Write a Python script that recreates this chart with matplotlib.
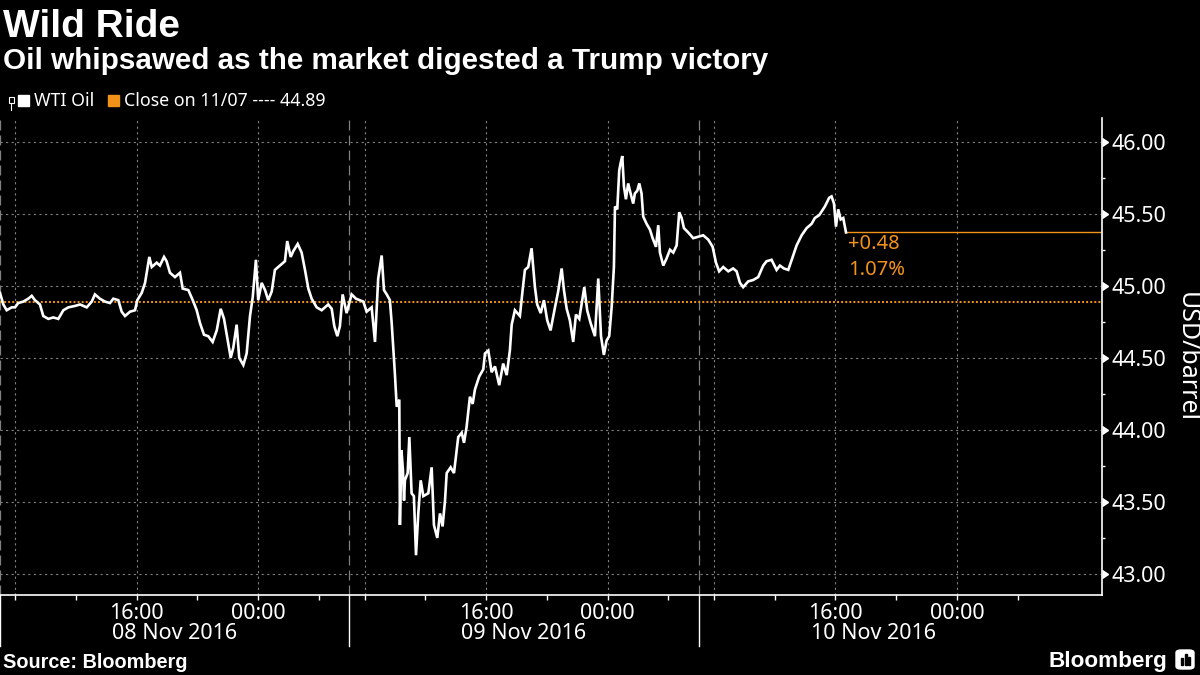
import numpy as np
import matplotlib.pyplot as plt
from matplotlib.patches import Rectangle, FancyBboxPatch
from matplotlib.lines import Line2D
from matplotlib.transforms import blended_transform_factory

plt.rcParams['font.family'] = ['Noto Sans', 'DejaVu Sans']
BOLD = ['Liberation Sans', 'DejaVu Sans']

# trading hours since 08 Nov 07:00 (HK time); each session is 23h, the 06:00-07:00 break is dropped
hours = [0.00, 0.22, 0.44, 0.77, 0.99, 1.20, 1.53, 1.86, 2.09, 2.30,
         2.63, 2.85, 3.18, 3.51, 3.84, 4.17, 4.50, 4.94, 5.27, 5.71,
         6.04, 6.25, 6.58, 6.91, 7.24, 7.46, 7.79, 8.01, 8.23, 8.56,
         8.89, 9.04, 9.33, 9.55, 9.83, 9.99, 10.32, 10.53, 10.80, 10.97,
         11.19, 11.52, 11.85, 12.03, 12.40, 12.73, 12.95, 13.17, 13.43, 13.71,
         14.00, 14.27, 14.53, 14.75, 14.96, 15.19, 15.36, 15.58, 15.75, 16.02,
         16.24, 16.46, 16.64, 16.85, 17.00, 17.23, 17.45, 17.66, 17.89, 18.10,
         18.43, 18.76, 18.91, 19.14, 19.31, 19.60, 19.86, 20.08, 20.30, 20.52,
         20.85, 21.18, 21.61, 21.84, 22.01, 22.21, 22.38, 22.56, 22.82, 23.15,
         23.44, 23.92, 24.14, 24.47, 24.69, 24.90, 25.13, 25.28, 25.46, 25.67,
         25.79, 26.00, 26.12, 26.29,
         26.33, 26.43, 26.53, 26.60, 26.66, 26.84,
         26.95, 27.10, 27.25, 27.39, 27.54, 27.70, 27.87, 28.20, 28.42, 28.57,
         28.79, 28.97, 29.14, 29.30, 29.41, 29.67, 29.89, 30.17, 30.40, 30.55,
         30.72, 30.94, 31.12, 31.27, 31.55, 31.82, 31.93, 32.15, 32.37, 32.59,
         32.87, 33.13, 33.36, 33.57, 33.69, 33.90, 34.23, 34.41, 34.56, 34.78,
         35.00, 35.22, 35.37, 35.60, 35.81, 36.03, 36.25, 36.54, 36.75, 36.98,
         37.13, 37.31, 37.52, 37.74, 37.92, 38.14, 38.47, 38.66, 38.89, 39.17,
         39.39, 39.57, 39.76, 39.94, 40.11, 40.27, 40.42, 40.49, 40.64, 40.77,
         40.86, 40.97, 41.08, 41.21, 41.36, 41.52, 41.69, 41.80, 41.96, 42.09,
         42.24, 42.35, 42.57, 42.79, 42.97, 43.19, 43.34, 43.45, 43.67, 43.89,
         44.11, 44.33, 44.55, 44.72, 44.88, 45.03, 45.31, 45.64, 45.97, 46.30,
         46.63, 46.92, 47.14, 47.35, 47.62, 47.95, 48.27, 48.50, 48.72, 48.93,
         49.26, 49.59, 49.92, 50.25, 50.47, 50.80, 51.13, 51.35, 51.61, 51.90,
         52.19, 52.45, 52.78, 53.11, 53.44, 53.65, 53.94, 54.31, 54.59, 54.75,
         54.91, 55.04, 55.19, 55.35, 55.52, 55.70]

wti = [44.95, 44.87, 44.83, 44.85, 44.85, 44.88, 44.89, 44.91, 44.93, 44.90,
       44.87, 44.79, 44.77, 44.78, 44.77, 44.83, 44.85, 44.86, 44.87, 44.85,
       44.89, 44.94, 44.91, 44.89, 44.88, 44.91, 44.90, 44.82, 44.79, 44.82,
       44.83, 44.90, 44.95, 45.02, 45.20, 45.13, 45.16, 45.14, 45.20, 45.17,
       45.09, 45.06, 45.09, 44.98, 44.97, 44.89, 44.83, 44.74, 44.66, 44.65,
       44.61, 44.69, 44.84, 44.77, 44.64, 44.50, 44.57, 44.73, 44.50, 44.45,
       44.53, 44.79, 44.92, 45.18, 44.90, 45.02, 44.97, 44.90, 44.96, 45.11,
       45.14, 45.17, 45.31, 45.20, 45.24, 45.29, 45.23, 45.11, 44.98, 44.91,
       44.85, 44.83, 44.87, 44.84, 44.72, 44.65, 44.72, 44.94, 44.81, 44.94,
       44.91, 44.89, 44.82, 44.85, 44.61, 45.05, 45.21, 44.97, 44.94, 44.90,
       44.74, 44.39, 44.16, 44.21,
       43.34, 43.86, 43.72, 43.51, 43.65, 43.70,
       43.95, 43.56, 43.54, 43.13, 43.42, 43.65, 43.54, 43.56, 43.74, 43.34,
       43.25, 43.42, 43.33, 43.51, 43.70, 43.74, 43.70, 43.95, 43.98, 43.91,
       44.02, 44.23, 44.18, 44.28, 44.37, 44.42, 44.53, 44.55, 44.40, 44.44,
       44.31, 44.46, 44.38, 44.55, 44.73, 44.83, 44.79, 44.97, 45.11, 45.13,
       45.26, 44.99, 44.87, 44.81, 44.90, 44.76, 44.69, 44.85, 44.96, 45.12,
       44.97, 44.84, 44.76, 44.61, 44.80, 44.77, 44.99, 44.83, 44.74, 44.65,
       45.05, 44.65, 44.52, 44.62, 44.65, 44.85, 45.13, 45.55, 45.53, 45.80,
       45.85, 45.90, 45.69, 45.60, 45.71, 45.64, 45.57, 45.64, 45.66, 45.71,
       45.64, 45.48, 45.43, 45.39, 45.33, 45.27, 45.42, 45.23, 45.14, 45.19,
       45.25, 45.23, 45.28, 45.51, 45.47, 45.40, 45.37, 45.33, 45.34, 45.35,
       45.32, 45.27, 45.16, 45.10, 45.13, 45.10, 45.12, 45.10, 45.02, 44.99,
       45.03, 45.04, 45.06, 45.14, 45.17, 45.18, 45.11, 45.14, 45.12, 45.11,
       45.20, 45.28, 45.35, 45.40, 45.43, 45.47, 45.49, 45.55, 45.61, 45.62,
       45.57, 45.41, 45.53, 45.46, 45.47, 45.37]

prev_close = 44.89
change = "+0.48"
change_pct = "1.07%"
days = ["08 Nov 2016", "09 Nov 2016", "10 Nov 2016"]
yticks = [43.0, 43.5, 44.0, 44.5, 45.0, 45.5, 46.0]

ORANGE = "#f39219"
GRID = "#808080"


def sess(day, clock):
    # position on the compressed trading axis
    return 23 * day + (clock - 7) % 24


fig = plt.figure(figsize=(12, 6.75), dpi=100, facecolor="black")
ax = fig.add_axes([0, 0.1185, 0.918, 0.7067])
ax.set_facecolor("black")
ax.set_xlim(0, 72.53)
ax.set_ylim(42.854, 46.164)

# grid
for y in yticks:
    ax.axhline(y, color=GRID, lw=0.8, ls=(0, (2, 3)), zorder=1)
for d in range(3):
    for c in [8, 16, 0]:
        ax.axvline(sess(d, c), color=GRID, lw=0.8, ls=(0, (2, 3)), zorder=1)
    ax.axvline(sess(d, 7), color=GRID, lw=0.9, ls=(0, (8, 4)), zorder=1)

# previous close and series
ax.axhline(prev_close, color=ORANGE, lw=1.4, ls=(0, (1, 1.1)), zorder=2)
ax.plot(hours, wti, color="white", lw=1.9, zorder=3, solid_joinstyle="miter")
ax.plot([hours[-1], 72.53], [wti[-1], wti[-1]], color=ORANGE, lw=1.0, zorder=2)
ax.annotate(change, (hours[-1], wti[-1]), xytext=(1.5, -8.5), textcoords="offset points",
            color=ORANGE, fontsize=14.5, ha="left", va="center")
ax.annotate(change_pct, (hours[-1], wti[-1]), xytext=(1.5, -27), textcoords="offset points",
            color=ORANGE, fontsize=14.5, ha="left", va="center")

# spines
for s in ["top", "left"]:
    ax.spines[s].set_visible(False)
for s in ["bottom", "right"]:
    ax.spines[s].set_color("white")
    ax.spines[s].set_linewidth(1.2)

# y axis on the right
ax.yaxis.tick_right()
ax.set_yticks(yticks)
ax.set_yticklabels([f"{v:.2f}" for v in yticks])
ax.set_yticks(np.arange(43.25, 46.1, 0.5), minor=True)
ax.tick_params(axis="y", which="major", length=0, pad=7, colors="white", labelsize=15.5)
ax.tick_params(axis="y", which="minor", length=2.5, width=1, colors="white", direction="out")
ax.plot(np.ones(len(yticks)), yticks, ls="none", marker=9, ms=5.5, color="white",
        transform=ax.get_yaxis_transform(), clip_on=False, zorder=5)

# x axis
major_x, major_lab, minor_x = [], [], []
for d in range(3):
    for c in [16, 0]:
        major_x.append(sess(d, c))
        major_lab.append(f"{c:02d}:00")
    for c in [8, 12, 20, 4]:
        minor_x.append(sess(d, c))
ax.set_xticks(major_x)
ax.set_xticklabels(major_lab)
ax.set_xticks(minor_x, minor=True)
ax.tick_params(axis="x", which="both", length=3.5, width=1, colors="white",
               direction="out", pad=2, labelsize=15.5)

trans = blended_transform_factory(ax.transData, ax.transAxes)
for d, lab in enumerate(days):
    ax.text(sess(d, 7) + 11.5, -0.08, lab, transform=trans, ha="center", va="center",
            color="white", fontsize=15.5)
    ax.plot([sess(d, 7), sess(d, 7)], [0, -0.107], transform=trans, color="white",
            lw=1.0, clip_on=False)

ax.text(1.077, 0.5, "USD/barrel", transform=ax.transAxes, rotation=270,
        ha="center", va="center", color="white", fontsize=18)

# titles
fig.text(3 / 1200, 1 - 37 / 675, "Wild Ride", color="white", fontsize=28,
         fontweight="bold", family=BOLD, va="baseline")
fig.text(3 / 1200, 1 - 69 / 675, "Oil whipsawed as the market digested a Trump victory",
         color="white", fontsize=21.3, fontweight="bold", family=BOLD, va="baseline")

# legend row
fig.add_artist(Rectangle((8.5 / 1200, 1 - 102.5 / 675), 5 / 1200, 6 / 675,
                         transform=fig.transFigure, fill=False, ec="white", lw=0.8))
fig.add_artist(Line2D([11 / 1200, 11 / 1200], [1 - 102.5 / 675, 1 - 110 / 675],
                      transform=fig.transFigure, color="white", lw=0.8))
fig.add_artist(Rectangle((18 / 1200, 1 - 106 / 675), 11 / 1200, 11 / 675,
                         transform=fig.transFigure, color="white"))
fig.text(34 / 1200, 1 - 106.5 / 675, "WTI Oil", color="white", fontsize=12.8, va="baseline")
fig.add_artist(Rectangle((108 / 1200, 1 - 106 / 675), 11 / 1200, 11 / 675,
                         transform=fig.transFigure, color=ORANGE))
fig.text(124 / 1200, 1 - 106.5 / 675, f"Close on 11/07 ---- {prev_close:.2f}",
         color="white", fontsize=12.8, va="baseline")

# footer
fig.text(3 / 1200, 1 - 668 / 675, "Source: Bloomberg", color="white", fontsize=14.3,
         fontweight="bold", family=BOLD, va="baseline")
fig.text(1167 / 1200, 1 - 667 / 675, "Bloomberg", color="white", fontsize=16.2,
         fontweight="bold", family=BOLD, va="baseline", ha="right")
fig.add_artist(FancyBboxPatch((1176 / 1200, 1 - 669 / 675), 18 / 1200, 19 / 675,
                              boxstyle="round,pad=0,rounding_size=0.004",
                              transform=fig.transFigure, color="white"))
for bx, bh in [(1181, 7), (1184.5, 11), (1188, 8)]:
    fig.add_artist(Rectangle((bx / 1200, 1 - 665 / 675), 2 / 1200, bh / 675,
                             transform=fig.transFigure, color="black"))

fig.savefig("out.png", dpi=100, facecolor="black")
